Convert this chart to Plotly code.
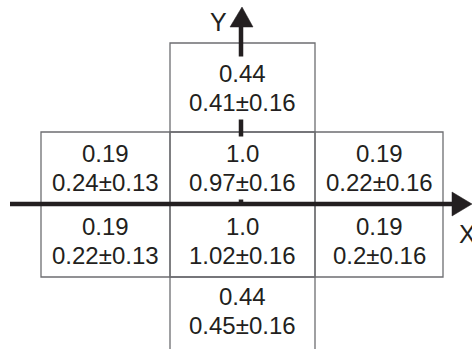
import plotly.graph_objects as go

# ---- data ----
cell_col = [1, 0, 1, 2, 0, 1, 2, 1]          # 0=left, 1=centre, 2=right
cell_row = [0, 1, 1, 1, 2, 2, 2, 3]          # 0=top ... 3=bottom
theory = ["0.44", "0.19", "1.0", "0.19", "0.19", "1.0", "0.19", "0.44"]
measured = ["0.41", "0.24", "0.97", "0.22", "0.22", "1.02", "0.2", "0.45"]
errors = ["0.16", "0.13", "0.16", "0.16", "0.13", "0.16", "0.16", "0.16"]
axis_labels = ["X", "Y"]

# ---- layout geometry (pixel-like canvas units) ----
W, H = 472, 349
COL_EDGES = [41, 170, 315, 443]
ROW_EDGES = [43, 132, 204, 277, 345]
AX_X, AX_Y = 241, 204
TXT = "#231f20"
BOX = "#6d6e71"
FONT = "Liberation Sans, Arial, sans-serif"
FS = 24
GAP = 14.5

fig = go.Figure()
shapes = []
annotations = []

for c, r, t, m, e in zip(cell_col, cell_row, theory, measured, errors):
    x0, x1 = COL_EDGES[c], COL_EDGES[c + 1]
    y0, y1 = ROW_EDGES[r], ROW_EDGES[r + 1]
    y1_draw = y1 + 20 if r == len(ROW_EDGES) - 2 else y1
    shapes.append(dict(type="rect", xref="x", yref="y", x0=x0, x1=x1, y0=y0, y1=y1_draw,
                       line=dict(color=BOX, width=1.3), layer="below"))
    cx, cy = (x0 + x1) / 2, (y0 + y1) / 2
    for txt, dy in ((t, -GAP), (f"{m}±{e}", GAP)):
        annotations.append(dict(x=cx, y=cy + dy, xref="x", yref="y", text=txt,
                                showarrow=False, xanchor="center", yanchor="middle",
                                font=dict(family=FONT, size=FS, color=TXT),
                                bgcolor="white", borderpad=3))

# axes (drawn below text so labels mask the Y axis)
shapes.append(dict(type="line", xref="x", yref="y", x0=10, x1=454, y0=AX_Y, y1=AX_Y,
                   line=dict(color=TXT, width=4.5), layer="below"))
shapes.append(dict(type="line", xref="x", yref="y", x0=AX_X, x1=AX_X, y0=AX_Y, y1=25,
                   line=dict(color=TXT, width=4.5), layer="below"))
shapes.append(dict(type="path", xref="x", yref="y",
                   path=f"M 452 {AX_Y-12} L 472 {AX_Y} L 452 {AX_Y+12} Z",
                   fillcolor=TXT, line=dict(color=TXT, width=0.5), layer="below"))
shapes.append(dict(type="path", xref="x", yref="y",
                   path=f"M {AX_X-11} 27 L {AX_X+1} 7 L {AX_X+12} 27 Z",
                   fillcolor=TXT, line=dict(color=TXT, width=0.5), layer="below"))

annotations.append(dict(x=467, y=234, xref="x", yref="y", text=axis_labels[0], showarrow=False,
                        xanchor="center", yanchor="middle",
                        font=dict(family=FONT, size=25, color=TXT)))
annotations.append(dict(x=218, y=22, xref="x", yref="y", text=axis_labels[1], showarrow=False,
                        xanchor="center", yanchor="middle",
                        font=dict(family=FONT, size=25, color=TXT)))

fig.update_layout(
    width=W, height=H, margin=dict(l=0, r=0, t=0, b=0),
    paper_bgcolor="white", plot_bgcolor="white",
    xaxis=dict(range=[0, W], visible=False, fixedrange=True),
    yaxis=dict(range=[H, 0], visible=False, fixedrange=True),
    shapes=shapes, annotations=annotations, showlegend=False,
)
fig.write_html("out.html", config={"displayModeBar": False},
               post_script="document.body.style.margin='0';document.body.style.overflow='hidden';")
